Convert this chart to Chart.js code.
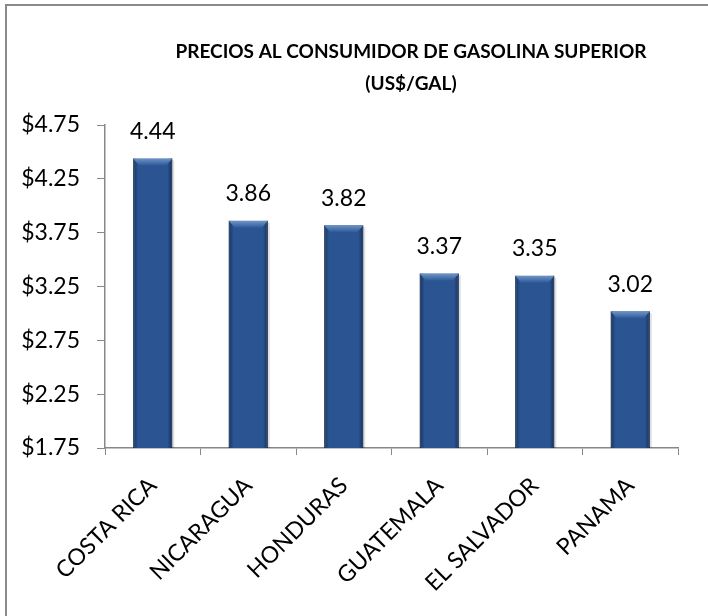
<!DOCTYPE html>
<html>
<head>
    <title>Precios al consumidor de gasolina superior</title>
    <script src="https://cdn.jsdelivr.net/npm/chart.js@4.4.0/dist/chart.umd.min.js"></script>
    <style>
        body { margin: 0; background: #fff; }
        #wrap { position: relative; width: 708px; height: 616px; overflow: hidden; }
        #frame { position: absolute; left: 5px; top: 4px; width: 800px; height: 700px; border-left: 2px solid #8a8a8a; border-top: 2px solid #8a8a8a; }
        canvas { position: absolute; left: 0; top: 0; }
    </style>
</head>
<body>
    <div id="wrap">
        <div id="frame"></div>
        <canvas id="myChart" width="708" height="616"></canvas>
    </div>

    <script>
        // data
        var paises = ['COSTA RICA', 'NICARAGUA', 'HONDURAS', 'GUATEMALA', 'EL SALVADOR', 'PANAMA'];
        var precios = [4.44, 3.86, 3.82, 3.37, 3.35, 3.02];
        var tituloLineas = ['PRECIOS AL CONSUMIDOR DE GASOLINA SUPERIOR', '(US$/GAL)'];
        var yMin = 1.75, yMax = 4.75, yPaso = 0.5;

        var fuente = 'Lato, "Open Sans", sans-serif';

        // title drawn by hand so it can sit right of centre like the original
        var tituloPlugin = {
            id: 'titulo',
            afterDraw: function(chart) {
                var c = chart.ctx;
                c.save();
                c.fillStyle = '#000';
                c.font = 'bold 19px ' + fuente;
                c.textAlign = 'center';
                c.textBaseline = 'middle';
                c.fillText(tituloLineas[0], 411, 52);
                c.fillText(tituloLineas[1], 411, 84);
                c.restore();
            }
        };

        // bevel / shading on the bars + value labels
        var barrasPlugin = {
            id: 'barras',
            afterDatasetsDraw: function(chart) {
                var c = chart.ctx;
                var meta = chart.getDatasetMeta(0);
                var fondo = chart.chartArea.bottom;
                meta.data.forEach(function(bar, i) {
                    var x0 = bar.x - bar.width / 2, x1 = bar.x + bar.width / 2;
                    var top = bar.y, base = Math.min(bar.base, fondo);
                    c.save();
                    // side shading
                    var g = c.createLinearGradient(x0, 0, x1, 0);
                    g.addColorStop(0, 'rgba(10,25,55,0.55)');
                    g.addColorStop(0.13, 'rgba(10,25,55,0)');
                    g.addColorStop(0.87, 'rgba(10,25,55,0)');
                    g.addColorStop(1, 'rgba(10,25,55,0.6)');
                    c.fillStyle = g;
                    c.fillRect(x0, top, x1 - x0, base - top);
                    // top bevel
                    var gt = c.createLinearGradient(0, top, 0, top + 7);
                    gt.addColorStop(0, '#6f95c9');
                    gt.addColorStop(1, '#2f5a98');
                    c.fillStyle = gt;
                    c.beginPath();
                    c.moveTo(x0, top);
                    c.lineTo(x1, top);
                    c.lineTo(x1 - 6, top + 7);
                    c.lineTo(x0 + 6, top + 7);
                    c.closePath();
                    c.fill();
                    // right shadow
                    c.fillStyle = 'rgba(0,0,0,0.12)';
                    c.fillRect(x1, top + 2, 2, base - top - 2);
                    // value label
                    c.fillStyle = '#000';
                    c.font = '23px ' + fuente;
                    c.textAlign = 'center';
                    c.textBaseline = 'middle';
                    c.fillText(precios[i].toFixed(2), bar.x, top - 27);
                    c.restore();
                });
            }
        };

        var ctx = document.getElementById('myChart').getContext('2d');
        var myChart = new Chart(ctx, {
            type: 'bar',
            data: {
                labels: paises,
                datasets: [{
                    data: precios,
                    backgroundColor: '#2b5592',
                    borderColor: '#1d3b69',
                    borderWidth: 1,
                    categoryPercentage: 1,
                    barPercentage: 0.41
                }]
            },
            options: {
                responsive: false,
                animation: false,
                layout: { padding: { top: 125, right: 30, left: 0, bottom: 0 } },
                plugins: {
                    legend: { display: false },
                    tooltip: { enabled: false },
                    title: { display: false }
                },
                scales: {
                    x: {
                        grid: { display: true, drawOnChartArea: false, offset: true, tickLength: 7, color: '#888' },
                        border: { color: '#888', width: 1.5 },
                        ticks: {
                            color: '#000',
                            font: { family: fuente, size: 23 },
                            maxRotation: 45,
                            minRotation: 45,
                            padding: 17
                        },
                        afterFit: function(scale) { scale.height = 616 - 448; }
                    },
                    y: {
                        min: yMin,
                        max: yMax,
                        grid: { display: true, drawOnChartArea: false, tickLength: 8, color: '#888' },
                        border: { color: '#888', width: 1.5 },
                        ticks: {
                            stepSize: yPaso,
                            color: '#000',
                            padding: 17,
                            font: { family: fuente, size: 23 },
                            callback: function(v) { return '$' + Number(v).toFixed(2); }
                        },
                        afterFit: function(scale) { scale.width = 105; }
                    }
                }
            },
            plugins: [tituloPlugin, barrasPlugin]
        });
    </script>
</body>
</html>
